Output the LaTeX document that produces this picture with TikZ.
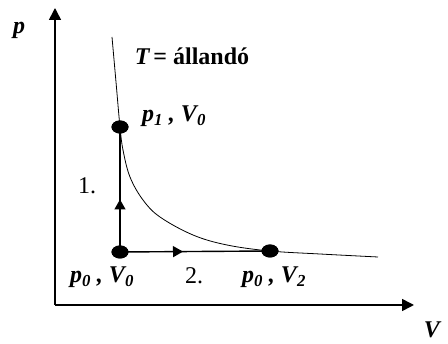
\documentclass[tikz,border=0pt]{standalone}
\usepackage{fontspec}
\setmainfont{Liberation Serif}
\usetikzlibrary{positioning,arrows.meta,decorations.markings,shapes.geometric}

\newcommand{\statetext}[4]{#1\textsubscript{#2} , #3\textsubscript{#4}}

\begin{document}
\begin{tikzpicture}[x=1pt, y=-1pt,
          axis/.style={line width=1.6pt, -{Triangle[length=12pt,width=12pt]}},
          proc/.style={line width=1.4pt},
          isotherm/.style={line width=0.8pt},
          state/.style={ellipse, fill=black, inner sep=0pt,
              minimum width=17pt, minimum height=13pt},
          lbl/.style={font=\fontsize{24}{28}\selectfont\bfseries\itshape},
          num/.style={font=\fontsize{24}{28}\selectfont},
          midarrow/.style={postaction={decorate}, decoration={markings,
              mark=at position #1 with {\arrow{Triangle[length=10pt,width=11pt]}}}}
        ]
        \useasboundingbox (0,0) rectangle (448,344);
        % axes
        \coordinate (O)    at (55,305);
        \coordinate (ptip) at (55,8);
        \coordinate (Vtip) at (414,305);
        \draw[axis] (O) -- (ptip);
        \draw[axis] (O) -- (Vtip);
        \node[lbl] (plbl) at (19,30)  {p};
        \node[lbl, inner sep=1pt] (Vlbl) at (432,330) {V};
        % states
        \node[state] (p0v0) at (120,252) {};
        \node[state] (p1v0) at (120,127) {};
        \node[state] (p0v2) at (270,251) {};
        % isotherm
        \draw[isotherm] plot[smooth, tension=0.6] coordinates {(112,37) (116,82) (120,127)
            (123,150) (130,177) (143,200) (160,217) (193,235) (227,245)
            (270,251) (320,254) (378,257)};
        % processes
        \draw[proc, midarrow=0.42] (p0v0.center) -- (p1v0.center);
        \draw[proc, midarrow=0.42] (p0v0.center) -- (p0v2.center);
        \node[state] at (p0v0) {};
        \node[state] at (p1v0) {};
        \node[state] at (p0v2) {};
        % labels
        \node[lbl] (temp) at (192,56) {T\,\upshape= állandó};
        \node[lbl] (s1)   at (174,116) {\statetext{p}{1}{V}{0}};
        \node[lbl] (s0)   at (102,277) {\statetext{p}{0}{V}{0}};
        \node[lbl] (s2)   at (274,277) {\statetext{p}{0}{V}{2}};
        \node[num] (step1) at (87,186) {1.};
        \node[num] (step2) at (194,276) {2.};
      \end{tikzpicture}
\end{document}
